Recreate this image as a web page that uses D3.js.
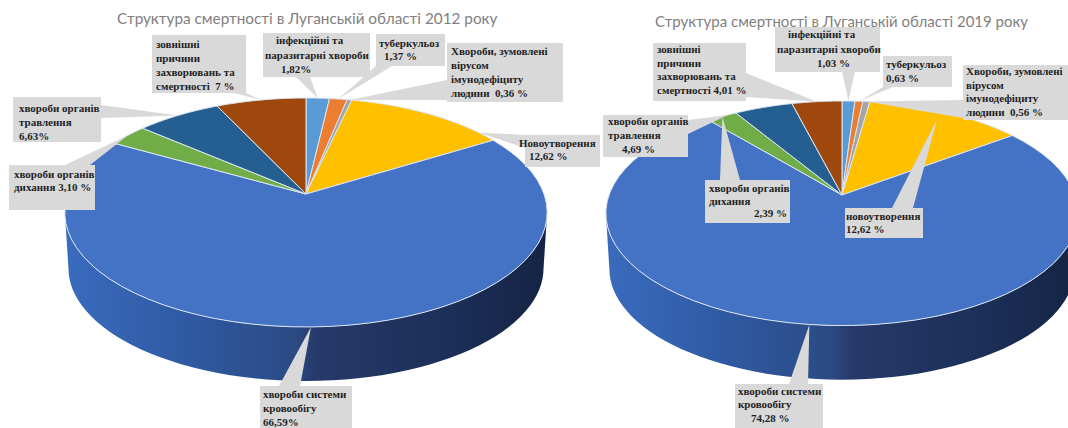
<!DOCTYPE html>
<html lang="uk">
<head>
<meta charset="utf-8">
<script src="https://cdn.jsdelivr.net/npm/d3@7"></script>
<style>
  html, body { margin: 0; padding: 0; background: #fff; overflow: hidden; }
  svg { display: block; }
  .title { font-family: Lato, "Open Sans", sans-serif; fill: #7f7f7f; }
  .callout { font-family: "Liberation Serif", serif; font-weight: 700; font-size: 11px; fill: #1f1f1f; }
</style>
</head>
<body>
<svg id="chart" width="1068" height="428"></svg>
<script>
// Causes of death, clockwise from twelve o'clock
const categories = ["infectious", "tuberculosis", "hiv", "neoplasms", "circulatory", "respiratory", "digestive", "external"];
const sliceColors = ["#5b9bd5", "#ed7d31", "#a5a5a5", "#ffc000", "#4472c4", "#70ad47", "#255e91", "#9e480e"];

const values2012 = [1.82, 1.37, 0.36, 12.62, 66.59, 3.10, 6.63, 7];
const values2019 = [1.03, 0.63, 0.56, 12.62, 74.28, 2.39, 4.69, 4.01];

const labels2012 = [
  ["інфекційні та", "паразитарні хвороби", "1,82%"],
  ["туберкульоз", "1,37 %"],
  ["Хвороби, зумовлені", "вірусом", "імунодефіциту", "людини  0,36 %"],
  ["Новоутворення", "12,62 %"],
  ["хвороби системи", "кровообігу", "66,59%"],
  ["хвороби органів", "дихання 3,10 %"],
  ["хвороби органів", "травлення", "6,63%"],
  ["зовнішні", "причини", "захворювань та", "смертності  7 %"]
];
const labels2019 = [
  ["інфекційні та", "паразитарні хвороби", "1,03 %"],
  ["туберкульоз", "0,63 %"],
  ["Хвороби, зумовлені", "вірусом", "імунодефіциту", "людини  0,56 %"],
  ["новоутворення", "12,62 %"],
  ["хвороби системи", "кровообігу", "74,28 %"],
  ["хвороби органів", "дихання", "2,39 %"],
  ["хвороби органів", "травлення", "4,69 %"],
  ["зовнішні", "причини", "захворювань та", "смертності 4,01 %"]
];

const title2012 = "Структура смертності в Луганській області 2012 року";
const title2019 = "Структура смертності в Луганській області 2019 року";

// Pie placement: apex, horizontal scale, vertical scale and foreshortening of the tilted disc
const view2012 = { cx: 306, cy: 194, B: 238, A: 111.5, k: 0.1616, depth: 56 };
const view2019 = { cx: 842, cy: 195, B: 233, A: 109.3, k: 0.163, depth: 56 };

// Callout boxes: rectangle, pointer base, pointer reach, text start and line step, per-line indents
const boxes2012 = [
  { box: [263, 33, 107, 44], base: [[296, 77], [310, 77]], r: 1, first: 11, step: 14.5, indent: [13, 2, 18] },
  { box: [376, 34, 69, 32], base: [[376, 66], [392, 66]], r: 1, first: 13, step: 13, indent: [3, 8] },
  { box: [447, 43, 116, 59], base: [[447, 80], [447, 100]], r: 1, first: 12, step: 14, indent: [4, 4, 4, 4] },
  { box: [525, 135, 75, 32], base: [[525, 135], [525, 148]], r: 1, turn: 17, first: 12, step: 13, indent: [-6, 4] },
  { box: [260, 386, 92, 42], base: [[279, 386], [300, 386]], r: 1, first: 12, step: 14, indent: [3, 3, 3] },
  { box: [9, 165, 86, 45], base: [[65, 165], [90, 165]], r: 1, first: 13, step: 13, indent: [5, 5] },
  { box: [13, 97, 88, 45], base: [[101, 105], [101, 118]], r: 1, first: 15, step: 14, indent: [6, 6, 6] },
  { box: [152, 35, 94, 58], base: [[234, 93], [246, 93]], r: 1, first: 13, step: 14, indent: [4, 4, 4, 4] }
];
const boxes2019 = [
  { box: [775, 27, 105, 45], base: [[842, 71], [855, 71]], r: 1, first: 11, step: 14.5, indent: [13, 2, 42] },
  { box: [883, 56, 69, 31], base: [[883, 87], [893, 87]], r: 1, first: 12, step: 14, indent: [3, 3] },
  { box: [963, 65, 105, 55], base: [[963, 100], [963, 118]], r: 1, first: 10, step: 13.5, indent: [3, 3, 3, 3] },
  { box: [845, 208, 78, 30], base: [[892, 208], [913, 208]], r: 0.9, first: 12, step: 13, indent: [1, 1] },
  { box: [735, 384, 88, 44], base: [[789, 384], [808, 384]], r: 1, first: 11, step: 13.3, indent: [3, 3, 16] },
  { box: [705, 180, 85, 43], base: [[720, 180], [740, 180]], r: 1, first: 12, step: 12.5, indent: [4, 4, 49] },
  { box: [603, 115, 85, 42], base: [[688, 120], [688, 134]], r: 1, turn: -11, first: 10, step: 14, indent: [5, 5, 19] },
  { box: [653, 43, 93, 58], base: [[746, 73], [746, 97]], r: 1, first: 10, step: 13.5, indent: [4, 4, 4, 4] }
];

const svg = d3.select("#chart");
const defs = svg.append("defs");

// Side wall shading runs from lit blue on the left to deep navy on the right
const wallGradient = defs.append("linearGradient").attr("id", "wallShade");
[[0, "#3a6bbd"], [0.25, "#2f5aa3"], [0.48, "#2b4a83"], [0.52, "#26396a"], [0.8, "#1c2f58"], [1, "#142443"]]
  .forEach(([o, c]) => wallGradient.append("stop").attr("offset", o).attr("stop-color", c));

const pie = d3.pie().sort(null).value(d => d).startAngle(0).endAngle(2 * Math.PI);
const line = d3.line().x(p => p[0]).y(p => p[1]);

function drawPie(values, labels, boxes, heading, view) {
  const { cx, cy, B, A, k, depth } = view;

  // Perspective projection of a point on the unit disc; angle is clockwise from the top
  const project = (angle, r = 1) => {
    const u = r * Math.sin(angle), v = r * Math.cos(angle), w = 1 + k * v;
    return [cx + B * u / w, cy - A * v / w];
  };
  const sweep = (a0, a1) => d3.range(0, 61).map(i => project(a0 + (a1 - a0) * i / 60));

  const g = svg.append("g");

  g.append("text").attr("class", "title")
    .attr("x", heading.x).attr("y", heading.y)
    .attr("font-size", heading.size).text(heading.text);

  // Side wall: the front half of the rim, extruded downward
  const silhouette = Math.PI / 2 + Math.asin(k);
  const rimFront = sweep(silhouette, 2 * Math.PI - silhouette);
  const rimLow = rimFront.map(([x, y]) => [cx + (x - cx) * 0.985, cy + (y - cy) * 0.985 + depth]);
  g.append("path")
    .attr("d", line([...rimFront, ...rimLow.reverse()]) + "Z")
    .attr("fill", "url(#wallShade)");

  // Top face of the disc
  const arcs = pie(values);
  g.selectAll("path.slice").data(arcs).join("path")
    .attr("class", "slice")
    .attr("data-category", (d, i) => categories[i])
    .attr("d", d => line([[cx, cy], ...sweep(d.startAngle, d.endAngle)]) + "Z")
    .attr("fill", (d, i) => sliceColors[i])
    .attr("stroke", "#dbe6f4")
    .attr("stroke-width", 1)
    .attr("stroke-linejoin", "round");

  // Callouts sit above the pie, each pointing at its slice
  const calloutData = arcs.map((d, i) => ({ arc: d, lines: labels[i], ...boxes[i] }));
  const callouts = g.selectAll("g.callout-group").data(calloutData).join("g")
    .attr("class", "callout-group");

  callouts.append("path")
    .attr("fill", "#d9d9d9")
    .attr("d", d => {
      const mid = (d.arc.startAngle + d.arc.endAngle) / 2 + (d.turn || 0) * Math.PI / 180;
      return line([d.base[0], project(mid, d.r), d.base[1]]) + "Z";
    });

  callouts.append("rect")
    .attr("fill", "#d9d9d9")
    .attr("x", d => d.box[0]).attr("y", d => d.box[1])
    .attr("width", d => d.box[2]).attr("height", d => d.box[3]);

  callouts.each(function (d) {
    d3.select(this).selectAll("text").data(d.lines).join("text")
      .attr("class", "callout")
      .attr("xml:space", "preserve")
      .attr("x", (t, i) => d.box[0] + d.indent[i])
      .attr("y", (t, i) => d.box[1] + d.first + i * d.step)
      .text(t => t);
  });
}

drawPie(values2012, labels2012, boxes2012, { text: title2012, x: 117, y: 24, size: 15.3 }, view2012);
drawPie(values2019, labels2019, boxes2019, { text: title2019, x: 655, y: 27, size: 15 }, view2019);
</script>
</body>
</html>
